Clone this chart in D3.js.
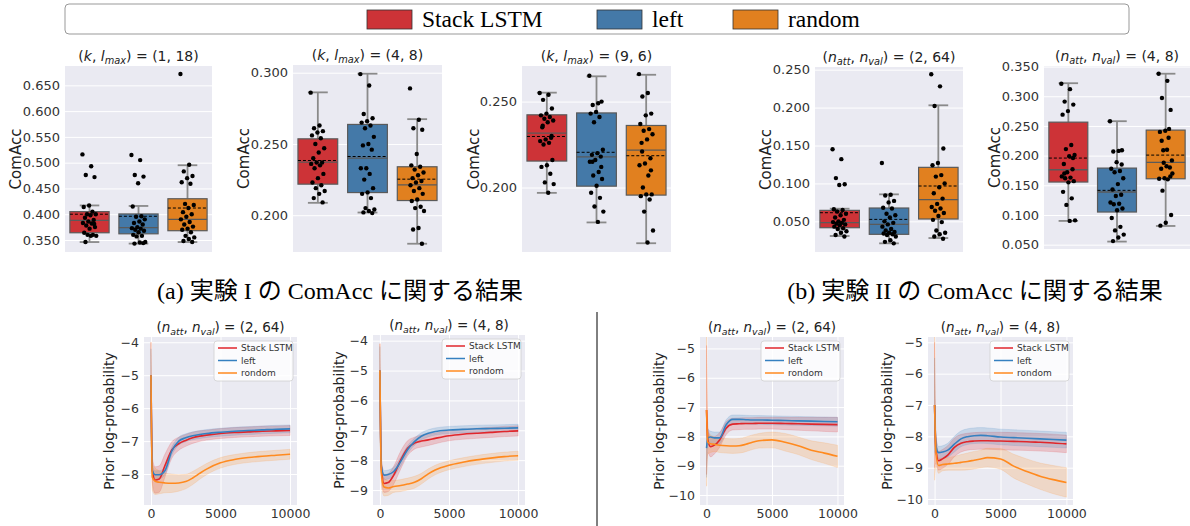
<!doctype html>
<html>
<head>
<meta charset="utf-8">
<style>
    body { margin: 0; background: #fff; }
    svg { display: block; }
    text { font-family: 'DejaVu Sans', sans-serif; fill: #333; }
    text.serif { font-family: 'Liberation Serif', 'Noto Sans CJK JP', serif; fill: #000; }
    .grid line { stroke: #fff; stroke-width: 1; }
    .grid path { display: none; }
</style>
<script src="https://d3js.org/d3.v7.min.js"></script>
</head>
<body>
<svg width="1190" height="526"></svg>
<script>
// ---------- data ----------
const methods = ['Stack LSTM', 'left', 'random'];
const lineLabels = ['Stack LSTM', 'left', 'rondom'];
const boxColors = ['#cd3337', '#4479a8', '#e1801f'];
const lineColors = ['#e0262b', '#3580c0', '#ff8a1f'];

// box stats: [whisker low, q1, median, q3, whisker high, mean]
const p1Ticks = [0.35, 0.40, 0.45, 0.50, 0.55, 0.60, 0.65];
const p1Stats = [[0.346, 0.364, 0.388, 0.405, 0.417, 0.400],
                 [0.343, 0.362, 0.374, 0.4005, 0.416, 0.396],
                 [0.346, 0.368, 0.390, 0.430, 0.495, 0.412]];
const p1Red = [0.516, 0.493, 0.476, 0.472, 0.417, 0.414, 0.405, 0.400, 0.400, 0.398, 0.393, 0.389, 0.386,
               0.383, 0.382, 0.378, 0.375, 0.372, 0.364, 0.360, 0.360, 0.358, 0.358, 0.346, 0.381];
const p1Blue = [0.515, 0.505, 0.476, 0.473, 0.460, 0.415, 0.396, 0.395, 0.390, 0.386, 0.383, 0.380, 0.375,
                0.373, 0.372, 0.370, 0.368, 0.365, 0.360, 0.358, 0.357, 0.346, 0.345, 0.343, 0.344];
const p1Orange = [0.672, 0.496, 0.483, 0.474, 0.470, 0.462, 0.459, 0.420, 0.418, 0.412, 0.404, 0.400, 0.395,
                  0.390, 0.385, 0.380, 0.376, 0.372, 0.370, 0.365, 0.358, 0.355, 0.352, 0.348, 0.346];

const p2Ticks = [0.200, 0.250, 0.300];
const p2Stats = [[0.2087, 0.2218, 0.2372, 0.2536, 0.2862, 0.2384],
                 [0.2019, 0.2159, 0.2400, 0.2637, 0.2993, 0.2412],
                 [0.1800, 0.2103, 0.2213, 0.2340, 0.2674, 0.2253]];
const p2Red = [0.286, 0.263, 0.261, 0.259, 0.258, 0.256, 0.254, 0.250, 0.247, 0.244, 0.240, 0.237, 0.237,
               0.236, 0.235, 0.233, 0.229, 0.226, 0.223, 0.221, 0.219, 0.217, 0.215, 0.212, 0.209];
const p2Blue = [0.299, 0.291, 0.271, 0.268, 0.266, 0.265, 0.263, 0.261, 0.255, 0.250, 0.249, 0.246, 0.233,
                0.233, 0.229, 0.225, 0.219, 0.216, 0.215, 0.212, 0.205, 0.204, 0.203, 0.202, 0.2015];
const p2Orange = [0.289, 0.267, 0.261, 0.260, 0.243, 0.235, 0.234, 0.232, 0.230, 0.228, 0.226, 0.224, 0.223,
                  0.221, 0.219, 0.217, 0.215, 0.211, 0.210, 0.206, 0.205, 0.203, 0.191, 0.190, 0.180];

const p3Ticks = [0.200, 0.250];
const p3Stats = [[0.1969, 0.2154, 0.2317, 0.2423, 0.2552, 0.2297],
                 [0.1797, 0.2008, 0.2178, 0.2434, 0.2647, 0.2205],
                 [0.1676, 0.1956, 0.2218, 0.2361, 0.2656, 0.2185]];
const p3Red = [0.255, 0.254, 0.251, 0.246, 0.243, 0.242, 0.241, 0.240, 0.239, 0.238, 0.235, 0.229, 0.228,
               0.227, 0.226, 0.225, 0.216, 0.213, 0.212, 0.208, 0.203, 0.202, 0.197, 0.236, 0.230];
const p3Blue = [0.265, 0.249, 0.248, 0.250, 0.244, 0.243, 0.241, 0.238, 0.222, 0.220, 0.219, 0.218, 0.216,
                0.215, 0.209, 0.207, 0.205, 0.201, 0.197, 0.194, 0.189, 0.186, 0.180, 0.215, 0.212];
const p3Orange = [0.266, 0.255, 0.253, 0.243, 0.242, 0.237, 0.234, 0.233, 0.231, 0.228, 0.226, 0.217, 0.214,
                  0.213, 0.207, 0.200, 0.196, 0.196, 0.195, 0.193, 0.186, 0.175, 0.168, 0.221, 0.210];

const p4Ticks = [0.050, 0.100, 0.150, 0.200, 0.250];
const p4Stats = [[0.0307, 0.0416, 0.0482, 0.0645, 0.0667, 0.0614],
                 [0.0210, 0.0329, 0.0460, 0.0676, 0.0856, 0.0526],
                 [0.0280, 0.0531, 0.0786, 0.1212, 0.2030, 0.0966]];
const p4Red = [0.145, 0.132, 0.107, 0.099, 0.098, 0.066, 0.065, 0.063, 0.060, 0.058, 0.055, 0.052, 0.050,
               0.049, 0.048, 0.047, 0.046, 0.045, 0.043, 0.041, 0.040, 0.037, 0.035, 0.032, 0.030];
const p4Blue = [0.127, 0.085, 0.084, 0.077, 0.075, 0.068, 0.067, 0.060, 0.058, 0.055, 0.050, 0.048, 0.046,
                0.043, 0.040, 0.038, 0.036, 0.035, 0.034, 0.033, 0.032, 0.030, 0.025, 0.023, 0.021];
const p4Orange = [0.244, 0.228, 0.202, 0.146, 0.127, 0.124, 0.111, 0.109, 0.100, 0.095, 0.087, 0.080, 0.073,
                  0.069, 0.067, 0.064, 0.061, 0.057, 0.052, 0.049, 0.038, 0.035, 0.033, 0.030, 0.027];

const p5Ticks = [0.050, 0.100, 0.150, 0.200, 0.250, 0.300, 0.350];
const p5Stats = [[0.0900, 0.1555, 0.1762, 0.2564, 0.3220, 0.1959],
                 [0.0552, 0.1050, 0.1387, 0.1790, 0.2580, 0.1415],
                 [0.0815, 0.1610, 0.1886, 0.2430, 0.3380, 0.2009]];
const p5Red = [0.321, 0.312, 0.291, 0.286, 0.275, 0.269, 0.218, 0.211, 0.201, 0.199, 0.186, 0.177, 0.172,
               0.165, 0.163, 0.162, 0.157, 0.155, 0.139, 0.128, 0.117, 0.091, 0.090, 0.170, 0.196];
const p5Blue = [0.258, 0.208, 0.207, 0.209, 0.189, 0.178, 0.174, 0.172, 0.162, 0.152, 0.143, 0.134, 0.132,
                0.121, 0.119, 0.118, 0.111, 0.108, 0.095, 0.080, 0.074, 0.067, 0.062, 0.056, 0.185];
const p5Orange = [0.338, 0.326, 0.297, 0.277, 0.242, 0.240, 0.230, 0.209, 0.192, 0.182, 0.178, 0.180, 0.162,
                  0.161, 0.160, 0.141, 0.100, 0.087, 0.082, 0.245, 0.188, 0.170, 0.210, 0.225, 0.165];

// training curves (x = step)
const steps = [0, 100, 300, 600, 1000, 1500, 2000, 2500, 3000, 3500, 4000, 5000, 6000, 7000, 8000, 9000, 10000];
const xTicks = [0, 5000, 10000];

const aRed = [-5.0, -7.9, -8.18, -8.15, -7.75, -7.27, -7.08, -6.98, -6.9, -6.85, -6.82, -6.77, -6.74, -6.72, -6.7, -6.69, -6.68];
const aRedBand = [1.0, 0.4, 0.4, 0.4, 0.35, 0.25, 0.2, 0.18, 0.17, 0.16, 0.15, 0.15, 0.15, 0.15, 0.15, 0.15, 0.15];
const aBlue = [-5.0, -7.9, -8.02, -8.02, -7.9, -7.3, -7.0, -6.9, -6.84, -6.8, -6.77, -6.73, -6.7, -6.68, -6.66, -6.64, -6.63];
const aBlueBand = [0.8, 0.2, 0.12, 0.12, 0.12, 0.12, 0.12, 0.12, 0.12, 0.12, 0.12, 0.12, 0.12, 0.12, 0.12, 0.12, 0.12];
const aOrange = [-5.0, -8.1, -8.22, -8.25, -8.27, -8.28, -8.27, -8.23, -8.12, -7.98, -7.85, -7.66, -7.56, -7.5, -7.46, -7.43, -7.4];
const aOrangeBand = [1.0, 0.4, 0.4, 0.35, 0.3, 0.28, 0.25, 0.22, 0.2, 0.18, 0.17, 0.16, 0.15, 0.15, 0.15, 0.15, 0.15];

const bRed = [-5.0, -8.2, -8.78, -8.75, -8.5, -8.0, -7.6, -7.43, -7.36, -7.32, -7.27, -7.18, -7.13, -7.1, -7.07, -7.04, -7.02];
const bRedBand = [0.9, 0.4, 0.3, 0.3, 0.3, 0.3, 0.25, 0.2, 0.2, 0.19, 0.18, 0.17, 0.17, 0.17, 0.17, 0.17, 0.17];
const bBlue = [-5.0, -8.2, -8.5, -8.48, -8.38, -8.05, -7.65, -7.38, -7.2, -7.1, -7.04, -6.99, -6.97, -6.95, -6.94, -6.93, -6.92];
const bBlueBand = [0.8, 0.2, 0.15, 0.15, 0.15, 0.15, 0.13, 0.12, 0.12, 0.12, 0.12, 0.12, 0.12, 0.12, 0.12, 0.12, 0.12];
const bOrange = [-5.0, -8.4, -8.9, -8.93, -8.88, -8.85, -8.8, -8.74, -8.62, -8.46, -8.33, -8.17, -8.07, -7.99, -7.93, -7.88, -7.85];
const bOrangeBand = [0.9, 0.4, 0.3, 0.25, 0.2, 0.2, 0.2, 0.2, 0.18, 0.17, 0.16, 0.15, 0.15, 0.15, 0.15, 0.15, 0.15];

const cRed = [-7.1, -8.1, -8.35, -8.3, -8.12, -7.72, -7.58, -7.57, -7.56, -7.56, -7.55, -7.55, -7.56, -7.57, -7.58, -7.59, -7.6];
const cRedBand = [2.2, 0.45, 0.35, 0.3, 0.25, 0.22, 0.2, 0.2, 0.2, 0.2, 0.2, 0.2, 0.21, 0.22, 0.23, 0.24, 0.25];
const cBlue = [-8.4, -8.05, -8.02, -8.05, -8.05, -7.6, -7.42, -7.42, -7.43, -7.44, -7.44, -7.45, -7.46, -7.47, -7.48, -7.49, -7.5];
const cBlueBand = [1.0, 0.3, 0.2, 0.2, 0.2, 0.17, 0.15, 0.15, 0.15, 0.15, 0.15, 0.15, 0.15, 0.15, 0.15, 0.15, 0.15];
const cOrange = [-7.1, -8.2, -8.25, -8.27, -8.3, -8.32, -8.33, -8.32, -8.27, -8.2, -8.15, -8.12, -8.2, -8.32, -8.47, -8.57, -8.68];
const cOrangeBand = [2.6, 0.4, 0.3, 0.25, 0.25, 0.25, 0.25, 0.25, 0.25, 0.25, 0.25, 0.27, 0.3, 0.3, 0.32, 0.35, 0.38];

const dRed = [-7.0, -8.4, -8.78, -8.72, -8.6, -8.35, -8.22, -8.17, -8.15, -8.14, -8.14, -8.15, -8.16, -8.17, -8.19, -8.21, -8.24];
const dRedBand = [2.0, 0.45, 0.3, 0.3, 0.3, 0.3, 0.28, 0.27, 0.27, 0.27, 0.27, 0.28, 0.28, 0.28, 0.28, 0.28, 0.28];
const dBlue = [-7.0, -8.3, -8.52, -8.5, -8.44, -8.25, -8.08, -8.01, -7.98, -7.97, -7.98, -8.02, -8.04, -8.06, -8.08, -8.1, -8.12];
const dBlueBand = [1.5, 0.3, 0.2, 0.2, 0.22, 0.25, 0.25, 0.25, 0.25, 0.25, 0.25, 0.25, 0.25, 0.25, 0.25, 0.25, 0.25];
const dOrange = [-7.0, -8.5, -8.93, -8.9, -8.88, -8.86, -8.83, -8.8, -8.76, -8.72, -8.68, -8.72, -8.95, -9.12, -9.27, -9.38, -9.47];
const dOrangeBand = [2.4, 0.45, 0.25, 0.2, 0.2, 0.22, 0.25, 0.27, 0.28, 0.28, 0.3, 0.33, 0.38, 0.4, 0.42, 0.45, 0.47];

// ---------- drawing ----------
const svg = d3.select('svg');
const bg = '#eaeaf2';

function mathTitle(g, cx, y, size, a, aSub, b, bSub, rest) {
    const t = g.append('text')
        .attr('x', cx).attr('y', y)
        .attr('text-anchor', 'middle')
        .style('font-size', size + 'px')
        .style('fill', '#222');
    t.append('tspan').text('(');
    t.append('tspan').style('font-style', 'italic').text(a);
    if (aSub) t.append('tspan').style('font-style', 'italic').style('font-size', (size * 0.7) + 'px').attr('dy', 3).text(aSub);
    t.append('tspan').attr('dy', aSub ? -3 : 0).text(', ');
    t.append('tspan').style('font-style', 'italic').text(b);
    t.append('tspan').style('font-style', 'italic').style('font-size', (size * 0.7) + 'px').attr('dy', 3).text(bSub);
    t.append('tspan').attr('dy', -3).text(') = ' + rest);
}

function boxPanel(f, domain, ticks, stats, pts, title, labelX) {
    const g = svg.append('g');
    const x = d3.scaleBand().domain(methods).range([f.x0, f.x1]).paddingInner(0.2).paddingOuter(0.1);
    const y = d3.scaleLinear().domain(domain).range([f.y1, f.y0]);

    g.append('rect').attr('x', f.x0).attr('y', f.y0)
        .attr('width', f.x1 - f.x0).attr('height', f.y1 - f.y0).attr('fill', bg);

    g.append('g').attr('class', 'grid')
        .attr('transform', `translate(${f.x0},0)`)
        .call(d3.axisLeft(y).tickValues(ticks).tickFormat(d3.format('.3f'))
            .tickSize(-(f.x1 - f.x0)).tickPadding(5))
        .selectAll('text').style('font-size', '13px').style('fill', '#333');

    const bw = x.bandwidth();
    methods.forEach((m, i) => {
        const s = stats[i];
        const cx = x(m) + bw / 2;
        const wg = g.append('g').attr('stroke', '#8a8a8a').attr('stroke-width', 1.8);
        wg.append('line').attr('x1', cx).attr('x2', cx).attr('y1', y(s[0])).attr('y2', y(s[1]));
        wg.append('line').attr('x1', cx).attr('x2', cx).attr('y1', y(s[3])).attr('y2', y(s[4]));
        wg.append('line').attr('x1', cx - bw / 4).attr('x2', cx + bw / 4).attr('y1', y(s[0])).attr('y2', y(s[0]));
        wg.append('line').attr('x1', cx - bw / 4).attr('x2', cx + bw / 4).attr('y1', y(s[4])).attr('y2', y(s[4]));
        g.append('rect').attr('x', x(m)).attr('y', y(s[3]))
            .attr('width', bw).attr('height', y(s[1]) - y(s[3]))
            .attr('fill', boxColors[i]).attr('stroke', '#5a5a5a').attr('stroke-width', 1.2);
        g.append('line').attr('x1', x(m)).attr('x2', x(m) + bw).attr('y1', y(s[2])).attr('y2', y(s[2]))
            .attr('stroke', '#5a5a5a').attr('stroke-width', 1.3);
        g.append('line').attr('x1', x(m)).attr('x2', x(m) + bw).attr('y1', y(s[5])).attr('y2', y(s[5]))
            .attr('stroke', '#000').attr('stroke-width', 1).attr('stroke-dasharray', '3,2');
        g.selectAll(null).data(pts[i]).enter().append('circle')
            .attr('cx', (d, k) => cx + (((k * 0.618034) % 1) - 0.5) * bw * 0.36)
            .attr('cy', d => y(d))
            .attr('r', 2.2)
            .attr('fill', '#000');
    });

    mathTitle(g, (f.x0 + f.x1) / 2, f.y0 - 5, 14, title[0], title[1], title[2], title[3], title[4]);

    g.append('text')
        .attr('transform', `translate(${labelX},${(f.y0 + f.y1) / 2}) rotate(-90)`)
        .attr('text-anchor', 'middle').attr('dy', '0.35em')
        .style('font-size', '15px').style('fill', '#222')
        .text('ComAcc');
}

function linePanel(f, domain, ticks, series, title, labelX, id) {
    const g = svg.append('g');
    const x = d3.scaleLinear().domain([-500, 10500]).range([f.x0, f.x1]);
    const y = d3.scaleLinear().domain(domain).range([f.y1, f.y0]);

    g.append('clipPath').attr('id', id).append('rect')
        .attr('x', f.x0).attr('y', f.y0).attr('width', f.x1 - f.x0).attr('height', f.y1 - f.y0);

    g.append('rect').attr('x', f.x0).attr('y', f.y0)
        .attr('width', f.x1 - f.x0).attr('height', f.y1 - f.y0).attr('fill', bg);

    g.append('g').attr('class', 'grid')
        .attr('transform', `translate(${f.x0},0)`)
        .call(d3.axisLeft(y).tickValues(ticks).tickFormat(d3.format('d'))
            .tickSize(-(f.x1 - f.x0)).tickPadding(5))
        .selectAll('text').style('font-size', '12.5px').style('fill', '#333');

    g.append('g').attr('class', 'grid')
        .attr('transform', `translate(0,${f.y1})`)
        .call(d3.axisBottom(x).tickValues(xTicks).tickFormat(d3.format('d'))
            .tickSize(-(f.y1 - f.y0)).tickPadding(4))
        .selectAll('text').style('font-size', '12.5px').style('fill', '#333');

    const plot = g.append('g').attr('clip-path', `url(#${id})`);
    series.forEach((s, i) => {
        const area = d3.area()
            .x((d, k) => x(steps[k]))
            .y0((d, k) => y(d - s.band[k]))
            .y1((d, k) => y(d + s.band[k]))
            .curve(d3.curveMonotoneX);
        plot.append('path').datum(s.mean).attr('d', area)
            .attr('fill', lineColors[i]).attr('fill-opacity', 0.2)
            .attr('stroke', lineColors[i]).attr('stroke-opacity', 0.25).attr('stroke-width', 0.6);
    });
    series.forEach((s, i) => {
        const line = d3.line()
            .x((d, k) => x(steps[k]))
            .y(d => y(d))
            .curve(d3.curveMonotoneX);
        plot.append('path').datum(s.mean).attr('d', line)
            .attr('fill', 'none').attr('stroke', lineColors[i]).attr('stroke-width', 1.6);
    });

    // legend
    const lx = f.x1 - 83, ly = f.y0 + 4;
    g.append('rect').attr('x', lx).attr('y', ly).attr('width', 79).attr('height', 40).attr('rx', 3)
        .attr('fill', '#fff').attr('fill-opacity', 0.8).attr('stroke', '#d0d0d0').attr('stroke-width', 0.8);
    lineLabels.forEach((lab, i) => {
        const yy = ly + 7 + i * 12.5;
        g.append('line').attr('x1', lx + 4).attr('x2', lx + 23).attr('y1', yy).attr('y2', yy)
            .attr('stroke', lineColors[i]).attr('stroke-width', 1.5);
        g.append('text').attr('x', lx + 27).attr('y', yy).attr('dy', '0.35em')
            .style('font-size', '9px').style('fill', '#333').text(lab);
    });

    mathTitle(g, (f.x0 + f.x1) / 2, f.y0 - 5, 13.5, 'n', 'att', 'n', 'val', title);

    g.append('text')
        .attr('transform', `translate(${labelX},${(f.y0 + f.y1) / 2}) rotate(-90)`)
        .attr('text-anchor', 'middle').attr('dy', '0.35em')
        .style('font-size', '14px').style('fill', '#222')
        .text('Prior log-probability');
}

// top legend
svg.append('rect').attr('x', 65).attr('y', 4).attr('width', 1064).attr('height', 30).attr('rx', 4)
    .attr('fill', '#fff').attr('stroke', '#999').attr('stroke-width', 1);
const legendX = [367, 597, 733];
methods.forEach((m, i) => {
    svg.append('rect').attr('x', legendX[i]).attr('y', 10).attr('width', 45).attr('height', 19)
        .attr('fill', boxColors[i]).attr('stroke', '#333').attr('stroke-width', 0.8);
    svg.append('text').attr('class', 'serif').attr('x', legendX[i] + 55).attr('y', 27)
        .style('font-size', '23.5px').text(m);
});

// box plots
boxPanel({x0: 65, x1: 212, y0: 66, y1: 252}, [0.3267, 0.6875], p1Ticks, p1Stats, [p1Red, p1Blue, p1Orange], ['k', '', 'l', 'max', '(1, 18)'], 16);
boxPanel({x0: 293, x1: 442, y0: 65, y1: 252}, [0.1742, 0.3054], p2Ticks, p2Stats, [p2Red, p2Blue, p2Orange], ['k', '', 'l', 'max', '(4, 8)'], 244);
boxPanel({x0: 522, x1: 671, y0: 66, y1: 252}, [0.1625, 0.2707], p3Ticks, p3Stats, [p3Red, p3Blue, p3Orange], ['k', '', 'l', 'max', '(9, 6)'], 474);
boxPanel({x0: 815, x1: 963, y0: 67, y1: 252}, [0.0096, 0.2535], p4Ticks, p4Stats, [p4Red, p4Blue, p4Orange], ['n', 'att', 'n', 'val', '(2, 64)'], 766);
boxPanel({x0: 1044, x1: 1190, y0: 66, y1: 249}, [0.0427, 0.351], p5Ticks, p5Stats, [p5Red, p5Blue, p5Orange], ['n', 'att', 'n', 'val', '(4, 8)'], 995);

// captions
svg.append('text').attr('class', 'serif').attr('x', 340).attr('y', 299).attr('text-anchor', 'middle')
    .style('font-size', '24px').text('(a) 実験 I の ComAcc に関する結果');
svg.append('text').attr('class', 'serif').attr('x', 975).attr('y', 299).attr('text-anchor', 'middle')
    .style('font-size', '24px').text('(b) 実験 II の ComAcc に関する結果');

// line plots
linePanel({x0: 144, x1: 297, y0: 337, y1: 505}, [-8.94, -3.84], [-8, -7, -6, -5, -4],
    [{mean: aRed, band: aRedBand}, {mean: aBlue, band: aBlueBand}, {mean: aOrange, band: aOrangeBand}], '(2, 64)', 109, 'clipA');
linePanel({x0: 373, x1: 525, y0: 335, y1: 505}, [-9.5, -3.81], [-9, -8, -7, -6, -5, -4],
    [{mean: bRed, band: bRedBand}, {mean: bBlue, band: bBlueBand}, {mean: bOrange, band: bOrangeBand}], '(4, 8)', 339, 'clipB');
linePanel({x0: 700, x1: 844, y0: 337, y1: 505}, [-10.34, -4.61], [-10, -9, -8, -7, -6, -5],
    [{mean: cRed, band: cRedBand}, {mean: cBlue, band: cBlueBand}, {mean: cOrange, band: cOrangeBand}], '(2, 64)', 659, 'clipC');
linePanel({x0: 928, x1: 1073, y0: 337, y1: 505}, [-10.19, -4.83], [-10, -9, -8, -7, -6, -5],
    [{mean: dRed, band: dRedBand}, {mean: dBlue, band: dBlueBand}, {mean: dOrange, band: dOrangeBand}], '(4, 8)', 887, 'clipD');

// separator
svg.append('line').attr('x1', 597).attr('x2', 597).attr('y1', 312).attr('y2', 526)
    .attr('stroke', '#000').attr('stroke-width', 1);
</script>
</body>
</html>
